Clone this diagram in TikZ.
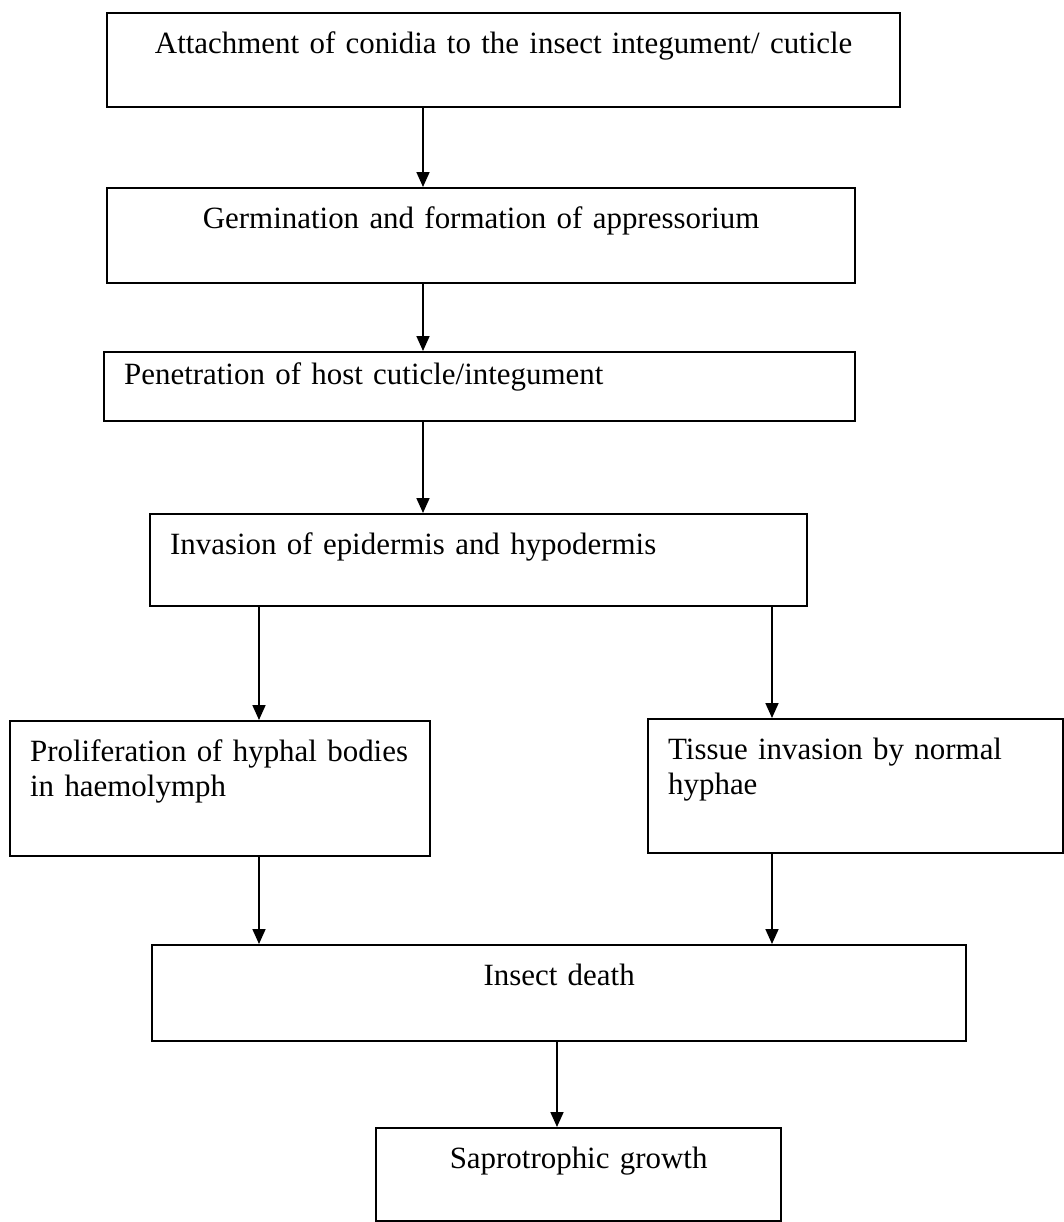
\documentclass[tikz,border=0pt]{standalone}
\usepackage{fontspec}
\setmainfont{Liberation Serif}
\usetikzlibrary{arrows.meta}

\begin{document}
\begin{tikzpicture}[
  stage/.style={draw, line width=1.3pt, anchor=north west, inner xsep=0.4cm,
                inner ysep=0.31cm, text height=0.49cm, align=center,
                font=\fontsize{17.6pt}{19.9pt}\selectfont},
  flow/.style={-{Triangle[length=0.3cm, width=0.26cm]}, line width=1pt}
]
\useasboundingbox (0,0) rectangle (21.28,-24.44);

%% -- Stages (top-left corners) ------------------------------------------------
\node[stage, text width=15.06cm, text depth=0.77cm] (attach) at (2.12,-0.24)
  {Attachment of conidia to the insect integument/ cuticle};
\node[stage, text width=14.16cm, text depth=0.79cm] (germ) at (2.12,-3.74)
  {Germination and formation of appressorium};
\node[stage, align=left, inner ysep=0.15cm, text width=14.22cm, text depth=0.59cm]
  (pene) at (2.06,-7.02) {Penetration of host cuticle/integument};
\node[stage, align=left, text width=12.34cm, text depth=0.73cm] (inv) at (2.98,-10.26)
  {Invasion of epidermis and hypodermis};
\node[stage, align=left, text width=7.60cm, text depth=1.59cm] (prolif) at (0.18,-14.40)
  {Proliferation of hyphal bodies\\in haemolymph};
\node[stage, align=left, text width=7.50cm, text depth=1.57cm] (tissue) at (12.94,-14.36)
  {Tissue invasion by normal\\hyphae};
\node[stage, text width=15.48cm, text depth=0.81cm] (death) at (3.02,-18.88)
  {Insect death};
\node[stage, text width=7.30cm, text depth=0.75cm] (sap) at (7.50,-22.54)
  {Saprotrophic growth};

%% -- Arrow columns --------------------------------------------------------------
\coordinate (upper)  at (8.46,0);
\coordinate (leftb)  at (5.18,0);
\coordinate (rightb) at (15.44,0);
\coordinate (lower)  at (11.14,0);

%% -- Flow -------------------------------------------------------------------------
\draw[flow] (attach.south -| upper) -- (germ.north -| upper);
\draw[flow] (germ.south -| upper)   -- (pene.north -| upper);
\draw[flow] (pene.south -| upper)   -- (inv.north -| upper);

% split into the two routes
\draw[flow] (inv.south -| leftb)  -- (prolif.north -| leftb);
\draw[flow] (inv.south -| rightb) -- (tissue.north -| rightb);

% both routes end in death
\draw[flow] (prolif.south -| leftb)  -- (death.north -| leftb);
\draw[flow] (tissue.south -| rightb) -- (death.north -| rightb);
\draw[flow] (death.south -| lower) -- (sap.north -| lower);

\end{tikzpicture}
\end{document}
